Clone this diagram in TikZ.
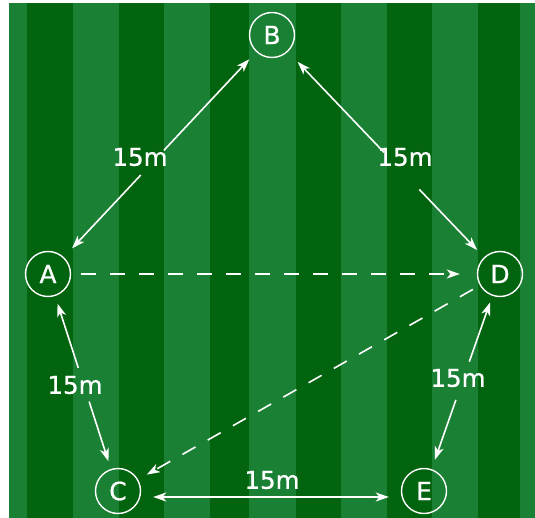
\documentclass[tikz,border=0pt]{standalone}
\usepackage{fontspec}
\setmainfont{DejaVu Sans}
\newfontfamily\pitchfont[FakeBold=0.8]{DejaVu Sans}
\usetikzlibrary{arrows.meta}
\definecolor{fieldlight}{RGB}{26,128,52}
\definecolor{fielddark}{RGB}{2,100,14}
\tikzset{
  >={Stealth[length=13pt,width=9pt,inset=3.5pt]},
  cone/.style={circle, draw=white, line width=1.4pt, minimum size=45pt,
    inner sep=0pt, text=white, font=\pitchfont\fontsize{25}{29}\selectfont},
  passline/.style={white, line width=1.6pt},
  runline/.style={passline, dash pattern=on 15pt off 14pt},
  distlabel/.style={text=white, inner sep=0pt, font=\pitchfont\fontsize{24.5}{28}\selectfont}
}

\begin{document}
\begin{tikzpicture}[x=1pt,y=-1pt]
  \useasboundingbox (0,0) rectangle (535,518);

  %% Striped pitch
  \fill[fieldlight] (9,3) rectangle (535,518);
  \foreach \l/\r in {27/73, 119/164, 210/249, 296/341, 387/432, 478/520}
    \fill[fielddark] (\l,3) rectangle (\r,518);

  %% Cones
  \node[cone] (A) at (48,274) {A};
  \node[cone] (B) at (272,35) {B};
  \node[cone] (C) at (118,491) {C};
  \node[cone] (D) at (500,274) {D};
  \node[cone] (E) at (424,491) {E};

  %% Gaps where the distance labels sit
  \path (A) -- coordinate[pos=0.40] (ab1) coordinate[pos=0.52] (ab2) (B);
  \path (B) -- coordinate[pos=0.49] (bd1) coordinate[pos=0.67] (bd2) (D);
  \path (A) -- coordinate[pos=0.415] (ac1) coordinate[pos=0.61] (ac2) (C);
  \path (D) -- coordinate[pos=0.38] (de1) coordinate[pos=0.60] (de2) (E);

  %% Passes (solid)
  \draw[passline, ->, shorten >=12pt] (ab1) -- (A);
  \draw[passline, ->, shorten >=10pt] (ab2) -- (B);
  \draw[passline, ->, shorten >=14pt] (bd1) -- (B);
  \draw[passline, ->, shorten >=10pt] (bd2) -- (D);
  \draw[passline, ->, shorten >=8pt] (ac1) -- (A);
  \draw[passline, ->, shorten >=8pt] (ac2) -- (C);
  \draw[passline, ->, shorten >=7pt] (de1) -- (D);
  \draw[passline, ->, shorten >=10pt] (de2) -- (E);
  \draw[passline, <->, shorten <=12pt, shorten >=12pt]
    ([yshift=-6pt]C.east) -- ([yshift=-6pt]E.west);

  %% Runs (dashed)
  \draw[runline, ->, shorten <=10pt, shorten >=17pt] (A) -- (D);
  \draw[runline, ->, shorten <=8pt, shorten >=10pt] (D) -- (C);

  %% Distances
  \node[distlabel] (lab) at (140,157) {15m};
  \node[distlabel] (lbd) at (405,157) {15m};
  \node[distlabel] (lac) at (75,385) {15m};
  \node[distlabel] (lde) at (458,378) {15m};
  \node[distlabel] (lce) at (272,480) {15m};
\end{tikzpicture}
\end{document}
